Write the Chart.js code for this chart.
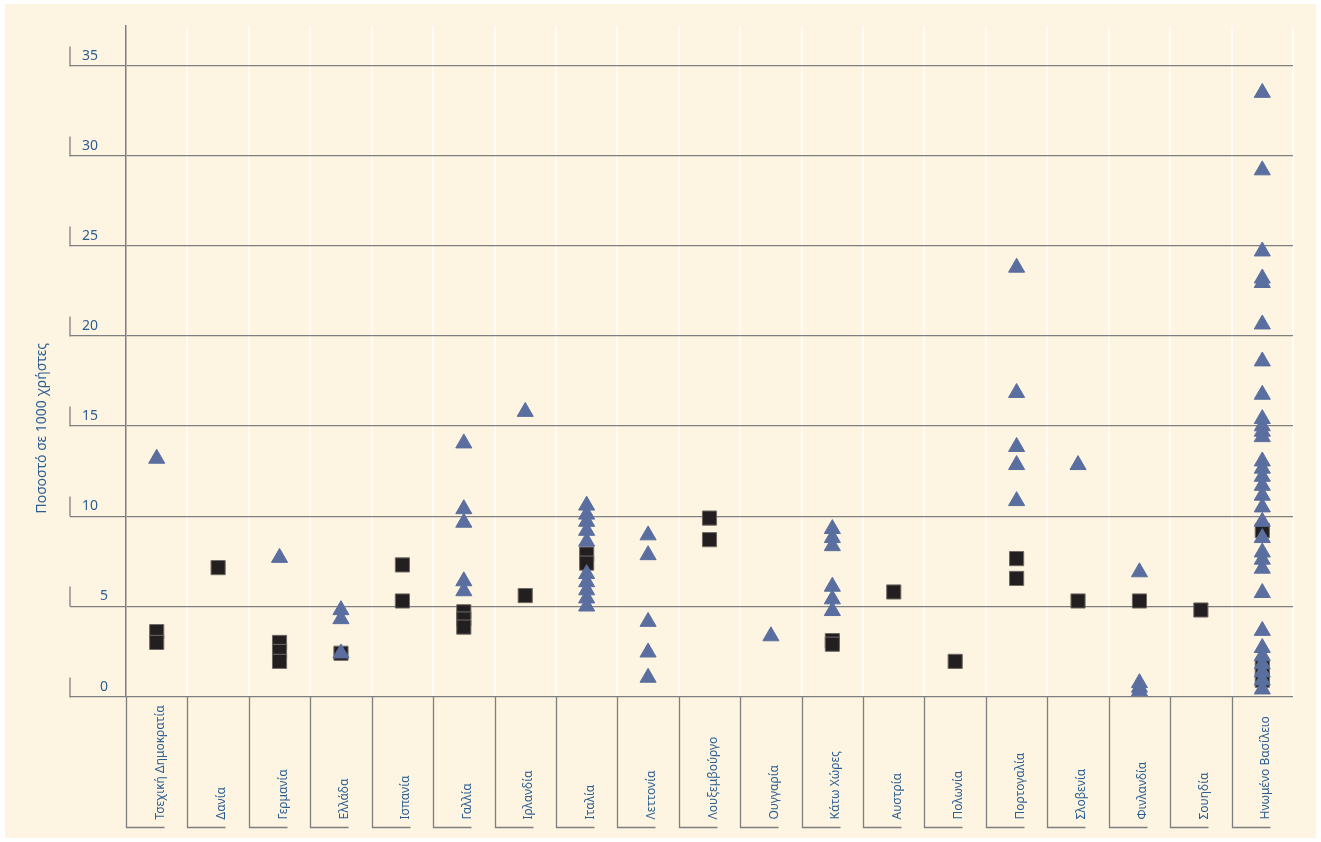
<!DOCTYPE html>
<html>
<head>
<meta charset="utf-8">
<script src="https://cdn.jsdelivr.net/npm/chart.js@4.4.1/dist/chart.umd.min.js"></script>
<style>
  html, body { margin:0; padding:0; background:#ffffff; }
  #panel { position:absolute; left:5px; top:4px; width:1311px; height:834px; background:#fdf5e2; }
  #c { position:absolute; left:0; top:0; }
</style>
</head>
<body>
<div id="panel"></div>
<canvas id="c" width="1321" height="842"></canvas>
<script>
// ── Data ───────────────────────────────────────────────────────
const countries = [
  'Τσεχική Δημοκρατία', 'Δανία', 'Γερμανία', 'Ελλάδα', 'Ισπανία', 'Γαλλία', 'Ιρλανδία',
  'Ιταλία', 'Λεττονία', 'Λουξεμβούργο', 'Ουγγαρία', 'Κάτω Χώρες', 'Αυστρία', 'Πολωνία',
  'Πορτογαλία', 'Σλοβενία', 'Φινλανδία', 'Σουηδία', 'Ηνωμένο Βασίλειο'
];

// blue triangles, one list per country (same order as countries)
const triValues = [
  [13.2],
  [],
  [7.7],
  [4.8, 4.3, 2.4],
  [],
  [14.05, 10.4, 9.65, 6.4, 5.85],
  [15.8],
  [10.6, 10.1, 9.7, 9.2, 8.6, 6.8, 6.35, 5.9, 5.45, 5.0],
  [8.95, 7.85, 4.15, 2.45, 1.05],
  [],
  [3.35],
  [9.3, 8.8, 8.35, 6.1, 5.4, 4.75],
  [],
  [],
  [23.8, 16.85, 13.85, 12.85, 10.85],
  [12.85],
  [6.9, 0.75, 0.5, 0.3],
  [],
  [33.5, 29.2, 24.7, 23.2, 22.95, 20.65, 18.6, 16.75, 15.4, 15.0, 14.7, 14.4,
   13.05, 12.65, 12.2, 11.7, 11.15, 10.5, 9.7, 8.8, 8.0, 7.6, 7.1, 5.75, 3.65,
   2.7, 2.25, 1.8, 1.35, 0.9, 0.4]
];

// black squares, one list per country
const sqValues = [
  [3.6, 3.0],
  [7.15],
  [3.0, 2.5, 1.95],
  [2.4],
  [7.3, 5.3],
  [4.7, 4.3, 3.85],
  [5.6],
  [7.9, 7.4],
  [],
  [9.9, 8.7],
  [],
  [3.1, 2.9],
  [5.8],
  [1.95],
  [7.65, 6.55],
  [5.3],
  [5.3],
  [4.8],
  [9.2, 1.6, 0.9]
];

const yTicks = [0, 5, 10, 15, 20, 25, 30, 35];
const yTitle = 'Ποσοστό σε 1000 χρήστες';

// ── Style ──────────────────────────────────────────────────────
const C = { tri:'#5a6e9f', sq:'#231f20', sqEdge:'#6f6a63', grid:'#7f7f7f', sep:'#fffcf6', text:'#2c5e92' };
const FONT = '"Noto Sans", sans-serif';

const toPoints = vals => vals.flatMap((list, i) => list.map(v => ({ x: countries[i], y: v })));

// ── Decorations: tick labels, brackets, axis title ─────────────
const decor = {
  id: 'decor',
  afterDraw(chart) {
    const { ctx, scales: { x, y } } = chart;
    const half = (x.getPixelForValue(1) - x.getPixelForValue(0)) / 2;
    ctx.save();
    ctx.strokeStyle = C.grid;
    ctx.lineWidth = 1.3;
    ctx.fillStyle = C.text;

    // y labels with little bracket ticks
    const tx = y.right - y.options.grid.tickLength;
    ctx.font = `14px ${FONT}`;
    ctx.textBaseline = 'alphabetic';
    ctx.textAlign = 'left';
    yTicks.forEach(v => {
      const py = Math.round(y.getPixelForValue(v)) + 0.5;
      ctx.beginPath(); ctx.moveTo(tx, py); ctx.lineTo(tx, py - 20); ctx.stroke();
      ctx.fillText(String(v), v < 10 ? tx + 30 : tx + 12, py - 7);
    });

    // x brackets + rotated labels
    const bottom = x.top + 131;
    ctx.font = `12px ${FONT}`;
    countries.forEach((name, i) => {
      const cx = x.getPixelForValue(i);
      const lx = Math.round(cx - half) + 0.5;
      ctx.beginPath();
      ctx.moveTo(lx, x.top); ctx.lineTo(lx, bottom); ctx.lineTo(lx + 38, bottom);
      ctx.stroke();
      ctx.save();
      ctx.translate(cx + 7, bottom - 8);
      ctx.rotate(-Math.PI / 2);
      ctx.textAlign = 'left';
      ctx.fillText(name, 0, 0);
      ctx.restore();
    });

    // y title
    ctx.save();
    ctx.translate(42, (y.top + y.bottom) / 2 + 67);
    ctx.rotate(-Math.PI / 2);
    ctx.textAlign = 'center';
    ctx.textBaseline = 'middle';
    ctx.font = `14px ${FONT}`;
    ctx.fillText(yTitle, 0, 0);
    ctx.restore();
    ctx.restore();
  }
};

// ── Chart ──────────────────────────────────────────────────────
new Chart(document.getElementById('c'), {
  type: 'line',
  data: {
    labels: countries,
    datasets: [
      { label: 'tri', data: toPoints(triValues), showLine: false, pointStyle: 'triangle',
        pointRadius: 9.3, pointBackgroundColor: C.tri, pointBorderColor: C.tri, pointBorderWidth: 1 },
      { label: 'sq', data: toPoints(sqValues), showLine: false, pointStyle: 'rect',
        pointRadius: 10, pointBackgroundColor: C.sq, pointBorderColor: C.sqEdge, pointBorderWidth: 1 }
    ]
  },
  options: {
    responsive: false,
    animation: false,
    events: [],
    layout: { padding: { top: 26, right: 28, left: 0, bottom: 0 } },
    plugins: { legend: { display: false }, tooltip: { enabled: false } },
    scales: {
      x: {
        offset: true,
        grid: { offset: true, drawTicks: false, lineWidth: 2,
                color: c => c.index === 0 ? 'rgba(0,0,0,0)' : C.sep },
        border: { display: false },
        ticks: { display: false },
        afterFit: s => { s.height = 145.5; }
      },
      y: {
        min: 0, max: 37.2,
        ticks: { display: false, stepSize: 5, includeBounds: false },
        grid: { color: C.grid, lineWidth: 1.3, tickLength: 56, drawTicks: true },
        border: { display: true, color: C.grid, width: 1.5 },
        afterFit: s => { s.width = 126; }
      }
    }
  },
  plugins: [decor]
});
</script>
</body>
</html>
